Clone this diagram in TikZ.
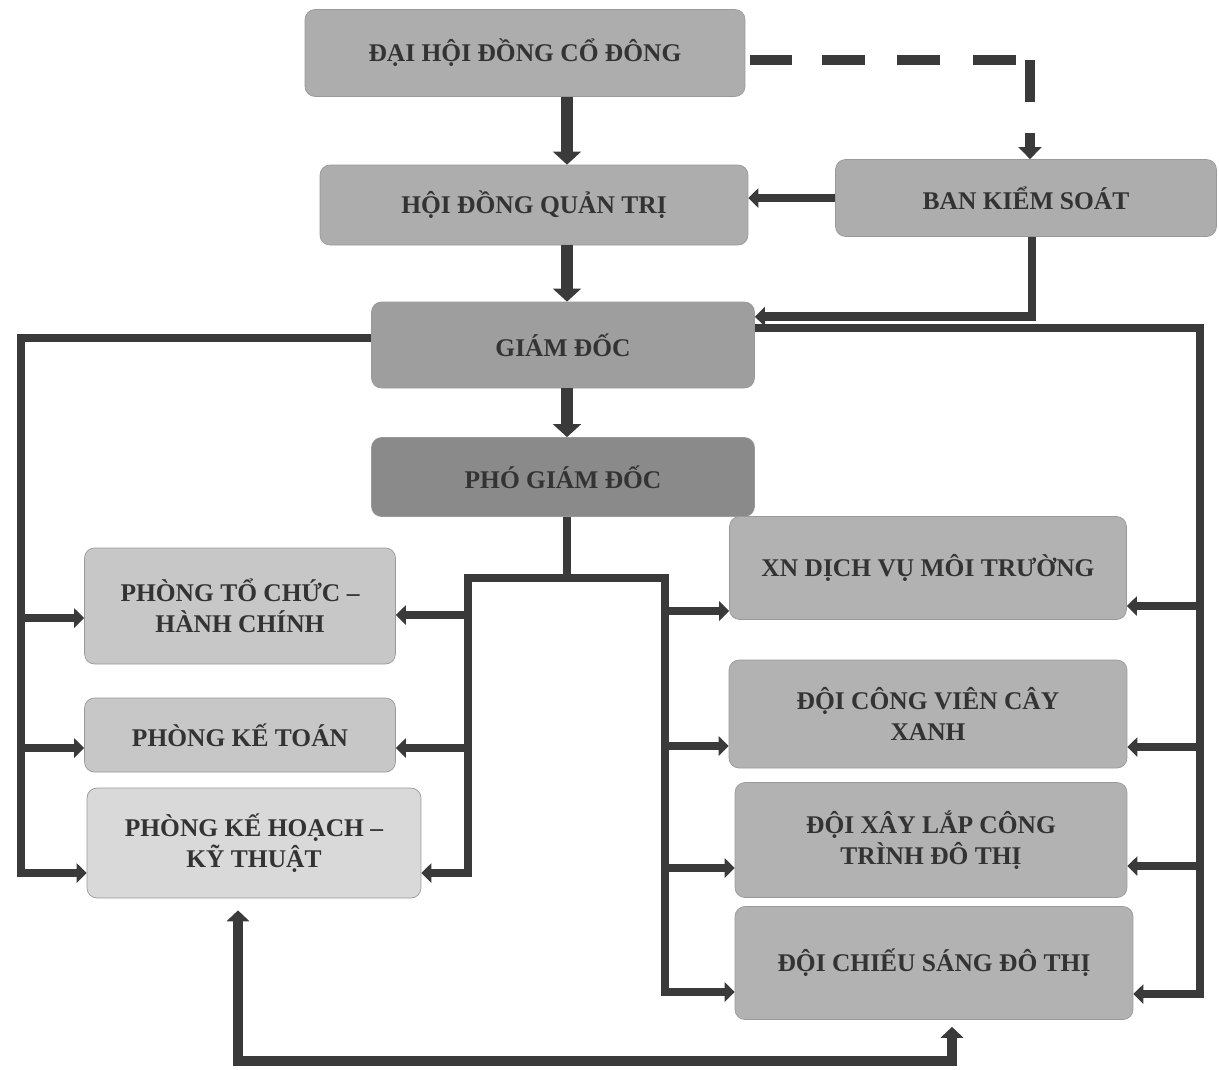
\documentclass[tikz,border=0pt]{standalone}
\usepackage{fontspec}
\setmainfont{Liberation Serif}
\usetikzlibrary{positioning}
\usetikzlibrary{arrows.meta}
\usetikzlibrary{calc}
\definecolor{wirecol}{HTML}{3A3A3A}
\tikzset{
    x=0.02cm, y=-0.02cm,
    box/.style={draw=black!40, rounded corners=2mm, align=center, text=black!80, inner sep=0pt,
        font=\bfseries\fontsize{14.5}{17.5}\selectfont},
    head/.style={box, fill=black!32},
    chief/.style={box, fill=black!42},
    dept/.style={box, fill=black!22},
    team/.style={box, fill=black!30},
    spine/.style={-{Triangle[length=0.26cm, width=0.55cm]}, line width=0.24cm, wirecol},
    wire/.style={line width=0.17cm, wirecol, line join=miter},
    link/.style={wire, -{Triangle[length=0.2cm, width=0.38cm]}},
    both/.style={wire, line width=0.2cm, {Triangle[length=0.22cm, width=0.45cm]}-{Triangle[length=0.22cm, width=0.45cm]}},
    watch/.style={wire, line width=0.2cm, -{Triangle[length=0.24cm, width=0.45cm]},
        dash pattern=on 0.84cm off 0.6cm on 0.86cm off 0.64cm on 0.86cm off 0.66cm on 0.86cm off 0.28cm on 0.84cm off 0.62cm on 1cm}
}
\begin{document}
\begin{tikzpicture}
\useasboundingbox (0,0) rectangle (1219,1069);

\node[head, minimum width=8.8cm, minimum height=1.74cm] (dhdcd) at (525,53) {ĐẠI HỘI ĐỒNG CỔ ĐÔNG};
\node[head, minimum width=8.56cm, minimum height=1.6cm] (hdqt) at (534,205) {HỘI ĐỒNG QUẢN TRỊ};
\node[head, minimum width=7.62cm, minimum height=1.54cm] (bks) at (1026,198) {BAN KIỂM SOÁT};
\node[chief, fill=black!38, minimum width=7.66cm, minimum height=1.72cm] (gd) at (563,345) {GIÁM ĐỐC};
\node[chief, fill=black!46, minimum width=7.66cm, minimum height=1.58cm] (pgd) at (563,477) {PHÓ GIÁM ĐỐC};

\node[dept, minimum width=6.22cm, minimum height=2.32cm] (ptchc) at (240,606) {PHÒNG TỔ CHỨC –\\HÀNH CHÍNH};
\node[dept, minimum width=6.22cm, minimum height=1.48cm] (pkt) at (240,735) {PHÒNG KẾ TOÁN};
\node[dept, fill=black!15, minimum width=6.68cm, minimum height=2.2cm] (pkhkt) at (254,843) {PHÒNG KẾ HOẠCH –\\KỸ THUẬT};

\node[team, minimum width=7.94cm, minimum height=2.06cm] (xn) at (928,568) {XN DỊCH VỤ MÔI TRƯỜNG};
\node[team, minimum width=7.96cm, minimum height=2.16cm] (dcvcx) at (928,714) {ĐỘI CÔNG VIÊN CÂY\\XANH};
\node[team, minimum width=7.84cm, minimum height=2.3cm] (dxlct) at (931,840) {ĐỘI XÂY LẮP CÔNG\\TRÌNH ĐÔ THỊ};
\node[team, minimum width=7.96cm, minimum height=2.26cm] (dcsdt) at (934,963) {ĐỘI CHIẾU SÁNG ĐÔ THỊ};

\coordinate (axis) at (567,0);
\draw[spine] (dhdcd.south -| axis) -- (hdqt.north -| axis);
\draw[spine] (hdqt.south -| axis) -- (gd.north -| axis);
\draw[spine] (gd.south -| axis) -- (pgd.north -| axis);

\draw[watch] ($(dhdcd.east)+(5,7)$) -| ($(bks.north)+(4,0)$);
\draw[link] (bks.west) -- (bks.west -| hdqt.east);
\draw[link] ($(bks.south)+(6,0)$) |- ($(gd.north east)+(0,15)$);

\coordinate (leftbus) at (21,338);
\draw[link] (gd.west |- leftbus) -- (leftbus) |- ($(pkhkt.west)+(0,30)$);
\draw[link] (leftbus) |- ($(ptchc.west)+(0,12)$);
\draw[link] (leftbus) |- ($(pkt.west)+(0,13)$);

\coordinate (rightbus) at (1200,328);
\draw[link] (gd.east |- rightbus) -- (rightbus) |- ($(dcsdt.east)+(0,31)$);
\draw[link] (rightbus) |- ($(xn.east)+(0,38)$);
\draw[link] (rightbus) |- ($(dcvcx.east)+(0,33)$);
\draw[link] (rightbus) |- ($(dxlct.east)+(0,26)$);

\coordinate (fork) at (567,578);
\coordinate (forkl) at (468,578);
\coordinate (forkr) at (665,578);
\draw[wire] (pgd.south -| fork) -- (fork);
\draw[link] (fork) -- (forkl) |- ($(pkhkt.east)+(0,30)$);
\draw[link] (forkl) |- ($(ptchc.east)+(0,9)$);
\draw[link] (forkl) |- ($(pkt.east)+(0,13)$);
\draw[link] (fork) -- (forkr) |- ($(dcsdt.west)+(0,29)$);
\draw[link] (forkr) |- ($(xn.west)+(0,43)$);
\draw[link] (forkr) |- ($(dcvcx.west)+(0,32)$);
\draw[link] (forkr) |- ($(dxlct.west)+(0,28)$);

\coordinate (base) at (0,1061);
\coordinate (pkhkt-tip) at ($(pkhkt.south)+(-16,12)$);
\coordinate (dcsdt-tip) at ($(dcsdt.south)+(18,7)$);
\draw[both] (pkhkt-tip) -- (pkhkt-tip |- base) -| (dcsdt-tip);
\end{tikzpicture}
\end{document}
